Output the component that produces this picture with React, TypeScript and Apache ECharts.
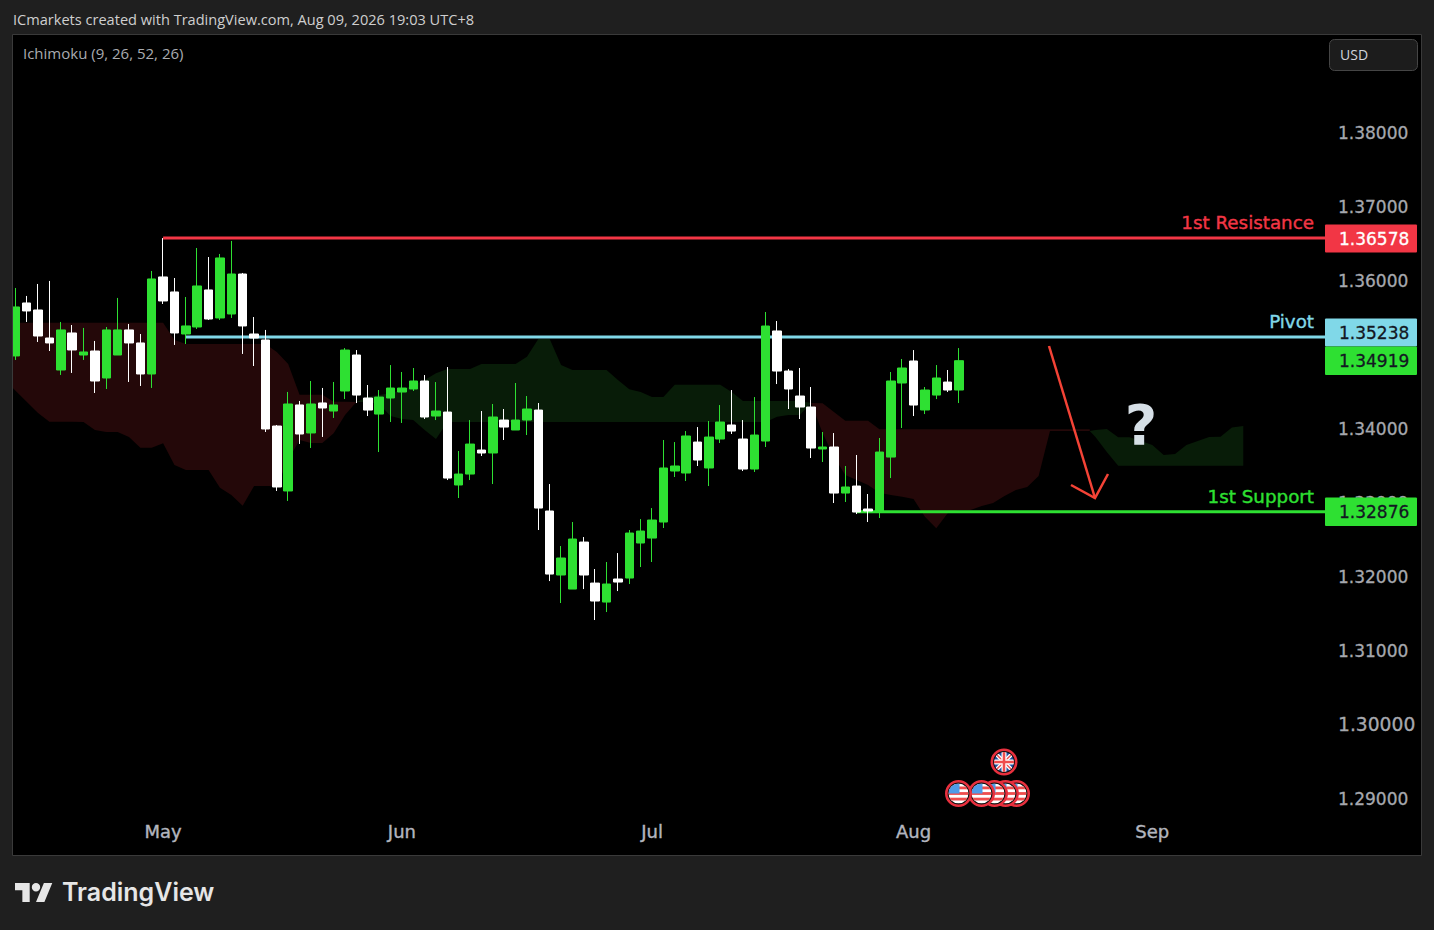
import React, { useEffect, useRef } from "react";
import * as echarts from "echarts";

// Daily candles (index 0 = first visible session, one per weekday)
const opens = [
  1.34983,1.357,1.35605,1.35226,1.34793,1.35294,1.34996,1.3505,1.34685,1.34996,
  1.35335,1.35159,1.34739,1.36052,1.35849,1.3528,1.35375,1.35876,1.35497,1.35551,
  1.36092,1.3528,1.35199,1.34035,1.33156,1.3432,1.33941,1.34347,1.34238,1.34509,
  1.34996,1.34414,1.34197,1.34414,1.34495,1.34536,1.34644,1.3417,1.34224,1.33237,
  1.33385,1.3371,1.3367,1.34116,1.33981,1.34116,1.34251,1.32885,1.32019,1.31829,
  1.32465,1.3191,1.31653,1.31965,1.31978,1.32452,1.32519,1.32736,1.33426,1.33399,
  1.33818,1.33467,1.33859,1.34049,1.33859,1.33453,1.33832,1.35321,1.34779,1.34441,
  1.34292,1.33724,1.33751,1.33128,1.33223,1.32912,1.32871,1.33615,1.34617,1.34915,
  1.34252,1.34454,1.3463,1.34522,
];
const closes = [
  1.35646,1.35592,1.35253,1.35159,1.35335,1.35064,1.35037,1.34644,1.35335,1.35335,
  1.35159,1.34739,1.36025,1.35727,1.35294,1.35389,1.3593,1.35483,1.36309,1.36092,
  1.35389,1.35226,1.33995,1.3321,1.34333,1.33927,1.34333,1.34279,1.3432,1.35063,
  1.34454,1.34251,1.34427,1.34549,1.34549,1.34644,1.34157,1.34238,1.33331,1.33385,
  1.33791,1.3367,1.34157,1.34021,1.34116,1.34265,1.32925,1.32032,1.32249,1.32506,
  1.32019,1.31667,1.31897,1.31924,1.32587,1.32614,1.32763,1.33467,1.33494,1.339,
  1.33575,1.33886,1.34089,1.33967,1.33453,1.33913,1.35388,1.34779,1.34536,1.34292,
  1.33737,1.33751,1.33128,1.3321,1.32871,1.32885,1.33683,1.34644,1.3482,1.34319,
  1.34522,1.34685,1.34522,1.34919,
];
const lows = [
  1.34929,1.35443,1.35172,1.3505,1.34726,1.34753,1.34929,1.34482,1.34536,1.34996,
  1.34631,1.34577,1.3455,1.35686,1.35132,1.35145,1.35348,1.3547,1.3547,1.35497,
  1.3501,1.34847,1.33954,1.33156,1.33021,1.33792,1.33738,1.33887,1.34144,1.344,
  1.34346,1.3417,1.33683,1.34089,1.34076,1.34509,1.3413,1.34116,1.33304,1.33061,
  1.33304,1.33629,1.3325,1.33846,1.33981,1.33913,1.32628,1.31937,1.3164,1.31829,
  1.31829,1.3141,1.31518,1.31802,1.31897,1.32127,1.32195,1.32655,1.33345,1.33291,
  1.33494,1.33223,1.33805,1.33927,1.33426,1.33413,1.33751,1.34603,1.34265,1.3413,
  1.33602,1.33548,1.32993,1.33007,1.32844,1.32736,1.3279,1.33331,1.34008,1.3417,
  1.34197,1.344,1.34495,1.34346,
];
const highs = [
  1.35903,1.35795,1.35957,1.35998,1.35443,1.35402,1.35362,1.35186,1.35375,1.35768,
  1.35416,1.3528,1.36133,1.36578,1.36038,1.35781,1.36444,1.36322,1.36363,1.36539,
  1.36106,1.3551,1.35335,1.34049,1.34496,1.34374,1.34644,1.3455,1.34631,1.3509,
  1.35063,1.3459,1.34522,1.3486,1.34766,1.3482,1.34725,1.3463,1.34833,1.33697,
  1.34116,1.34238,1.34333,1.34265,1.34617,1.34441,1.34346,1.3325,1.32411,1.32736,
  1.32533,1.321,1.32195,1.32316,1.32628,1.32776,1.32925,1.33846,1.33818,1.33967,
  1.34021,1.34103,1.34319,1.34522,1.34116,1.34427,1.35578,1.35456,1.34806,1.3482,
  1.34563,1.33954,1.3394,1.33494,1.33643,1.33115,1.33873,1.34766,1.34942,1.35063,
  1.34563,1.3486,1.34793,1.3509,
];

// Ichimoku cloud segments: session index, upper edge, lower edge
const red1Idx = [-0.2,1,2,3,4,5,6,7,8,9,10,11,12,13,14,15,16,17,18,19,20,21,22,23,24,25,26,27,28,29,30];
const red1Top = [1.35433,1.35433,1.35433,1.35433,1.35433,1.35433,1.35433,1.35433,1.35433,1.35433,1.35433,1.35433,1.35433,1.35433,1.35199,1.35145,1.35145,1.35145,1.35145,1.35145,1.35145,1.35145,1.35145,1.35037,1.34874,1.34459,1.34459,1.34459,1.34364,1.34364,1.3436];
const red1Bot = [1.34545,1.34364,1.34211,1.34093,1.34093,1.34093,1.34089,1.33981,1.33954,1.33954,1.33886,1.33741,1.33741,1.33801,1.33507,1.3344,1.3344,1.3344,1.332,1.33101,1.32957,1.33223,1.33223,1.33223,1.33575,1.33846,1.33805,1.33805,1.33936,1.34184,1.3436];

const green1Idx = [30,31,32,33,34,35,36,37,38,39,40,41,42,43,44,45,46,47,48,49,50,51,52,53,54,55,56,57,58,59,60,61,62,63,64,65,66,67,68,69,70];
const green1Top = [1.3436,1.34432,1.34455,1.34478,1.34522,1.3459,1.34658,1.34748,1.34806,1.34806,1.34806,1.34874,1.34874,1.34874,1.34874,1.34973,1.35212,1.35212,1.34861,1.34793,1.34793,1.34793,1.34793,1.34658,1.34532,1.34495,1.34428,1.34428,1.34594,1.34594,1.34594,1.34594,1.34594,1.34495,1.34373,1.34373,1.34373,1.34373,1.34373,1.34373,1.34346];
const green1Bot = [1.3436,1.3436,1.34333,1.3417,1.3413,1.34116,1.33981,1.33859,1.34089,1.34089,1.34089,1.34089,1.34089,1.34089,1.34089,1.34089,1.34089,1.34089,1.34089,1.34089,1.34089,1.34089,1.34089,1.34089,1.34089,1.34089,1.34089,1.34089,1.34089,1.34089,1.34089,1.34089,1.34089,1.34089,1.34089,1.34089,1.34089,1.34161,1.34184,1.34184,1.34346];

const red2Idx = [70,71,72,73,74,75,76,77,78,79,80,81,82,83,84,85,86,87,88,89,90,91,92,93,94.5];
const red2Top = [1.34346,1.34342,1.34225,1.34107,1.34107,1.34107,1.3399,1.3399,1.3399,1.3399,1.3399,1.3399,1.3399,1.3399,1.3399,1.3399,1.3399,1.3399,1.3399,1.3399,1.3399,1.3399,1.3399,1.3399,1.3399];
const red2Bot = [1.34346,1.3394,1.3362,1.33372,1.33304,1.33237,1.33133,1.33101,1.33078,1.33047,1.32808,1.32651,1.32854,1.32898,1.32898,1.32953,1.32993,1.33088,1.33169,1.3321,1.33359,1.33967,1.33967,1.33967,1.33967];

const green2Idx = [94.5,95,96,97,98,99,100,101,102,103,104,105,106,107,108];
const green2Top = [1.33967,1.33981,1.33995,1.33882,1.33882,1.33832,1.33778,1.33643,1.33656,1.33778,1.33832,1.33886,1.3389,1.34015,1.34035];
const green2Bot = [1.33967,1.33886,1.33683,1.33498,1.33498,1.33498,1.33498,1.33498,1.33498,1.33498,1.33498,1.33498,1.33498,1.33498,1.33498];

// Horizontal levels
const resistanceLevel = 1.36578;
const pivotLevel = 1.35238;
const supportLevel = 1.32876;
const lastClose = 1.34919;
const resistanceStart = 13;
const pivotStart = 15;
const supportStart = 74;

// Axis ticks
const priceTicks = [1.29, 1.3, 1.31, 1.32, 1.33, 1.34, 1.35, 1.36, 1.37, 1.38];
const monthTicks = [13, 34, 56, 79, 100];
const monthLabels = ["May", "Jun", "Jul", "Aug", "Sep"];

const UP = "#2ee032";
const DOWN = "#ffffff";
const RED = "#f23645";
const CYAN = "#80d8e8";
const SANS = "'DejaVu Sans', sans-serif";
const HEAD = "'Open Sans', sans-serif";

const LOGO_D =
  "M14 22H7V11H0V4h14v18ZM28 22h-8l7.5-18h8L28 22ZM20 4a4 4 0 1 1 0 8 4 4 0 0 1 0-8Z";
echarts.graphic.registerShape("tvlogo", echarts.graphic.extendPath(LOGO_D, {}));

const disc = (inner: string, id: string) =>
  "data:image/svg+xml," +
  encodeURIComponent(
    `<svg xmlns='http://www.w3.org/2000/svg' width='28' height='28' viewBox='0 0 28 28'>` +
      `<defs><clipPath id='${id}'><circle cx='14' cy='14' r='10'/></clipPath></defs>` +
      `<circle cx='14' cy='14' r='12.2' fill='#111' stroke='#e8303e' stroke-width='2.6'/>` +
      `<g clip-path='url(#${id})'>${inner}</g></svg>`
  );
const usFlag = disc(
  `<rect x='4' y='4' width='20' height='20' fill='#fff'/>` +
    `<rect x='4' y='7' width='20' height='2.8' fill='#ef4d4d'/>` +
    `<rect x='4' y='12.6' width='20' height='2.8' fill='#ef4d4d'/>` +
    `<rect x='4' y='18.2' width='20' height='2.8' fill='#ef4d4d'/>` +
    `<rect x='4' y='4' width='11' height='10' fill='#4f9be8'/>`,
  "us"
);
const ukFlag = disc(
  `<rect x='4' y='4' width='20' height='20' fill='#1d4fa0'/>` +
    `<path d='M4 4L24 24M24 4L4 24' stroke='#fff' stroke-width='4'/>` +
    `<path d='M4 4L24 24M24 4L4 24' stroke='#ef4d4d' stroke-width='1.4'/>` +
    `<path d='M14 4V24M4 14H24' stroke='#fff' stroke-width='5'/>` +
    `<path d='M14 4V24M4 14H24' stroke='#ef4d4d' stroke-width='2.6'/>`,
  "uk"
);

const cloud = (xs: number[], tops: number[], bots: number[], color: string) => ({
  type: "custom",
  coordinateSystem: "cartesian2d",
  silent: true,
  z: 1,
  clip: true,
  data: xs.map((x, i) => [x, tops[i], bots[i]]),
  encode: { x: 0, y: [1, 2] },
  renderItem: (params: any, api: any) => {
    if (params.dataIndex !== 0) return null;
    const upper = xs.map((x, i) => api.coord([x, tops[i]]));
    const lower = xs.map((x, i) => api.coord([x, bots[i]])).reverse();
    return { type: "polygon", shape: { points: [...upper, ...lower] }, style: { fill: color } };
  },
});

const level = (value: number, from: number, color: string) => ({
  type: "line",
  data: [
    [from, value],
    [116, value],
  ],
  symbol: "none",
  silent: true,
  z: 2,
  lineStyle: { color, width: 3 },
});

const tag = (top: number, h: number, bg: string, value: number, fg: string) => [
  { type: "rect", z: 100, shape: { x: 1325, y: top, width: 92, height: h, r: 1 }, style: { fill: bg } },
  {
    type: "text",
    z: 101,
    x: 1339,
    y: top + h / 2,
    style: { text: value.toFixed(5), fill: fg, stroke: fg, lineWidth: 0.3, font: `17px ${SANS}`, verticalAlign: "middle" },
  },
];

const caption = (text: string, y: number, color: string) => ({
  type: "text",
  z: 100,
  x: 1314,
  y,
  style: { text, fill: color, stroke: color, lineWidth: 0.4, font: `18.3px ${SANS}`, align: "right", verticalAlign: "middle" },
});

const flag = (image: string, cx: number, cy: number, z: number) => ({
  type: "image",
  z,
  style: { image, x: cx - 14, y: cy - 14, width: 28, height: 28 },
});

export default function App() {
  const ref = useRef<HTMLDivElement>(null);
  useEffect(() => {
    document.body.style.margin = "0";
    const chart = echarts.init(ref.current!, undefined, { renderer: "svg" });
    chart.setOption({
      animation: false,
      backgroundColor: "#1f1f1f",
      grid: { left: 13, top: 35, width: 1311, height: 785, containLabel: false },
      xAxis: {
        type: "value",
        min: -0.202,
        max: 115.1,
        axisLine: { show: false },
        axisTick: { show: false },
        splitLine: { show: false },
        axisLabel: {
          customValues: monthTicks,
          formatter: (v: number) => monthLabels[monthTicks.indexOf(v)] ?? "",
          color: "#b2b5be",
          fontFamily: SANS,
          fontWeight: 500,
          fontSize: 18,
          margin: 2,
          textBorderColor: "#b2b5be",
          textBorderWidth: 0.4,
        },
      },
      yAxis: {
        type: "value",
        position: "right",
        min: 1.28704,
        max: 1.39326,
        axisLine: { show: false },
        axisTick: { show: false },
        splitLine: { show: false },
        axisLabel: {
          customValues: priceTicks,
          formatter: (v: number) => (v === 1.3 ? `{big|${v.toFixed(5)}}` : v.toFixed(5)),
          color: "#a6a8ae",
          fontFamily: SANS,
          fontSize: 17,
          margin: 14,
          padding: [1, 0, 0, 0],
          textBorderColor: "#a6a8ae",
          textBorderWidth: 0.3,
          rich: {
            big: {
              fontSize: 18.7,
              fontFamily: SANS,
              color: "#a6a8ae",
              textBorderColor: "#a6a8ae",
              textBorderWidth: 0.3,
            },
          },
        },
      },
      series: [
        cloud(red1Idx, red1Top, red1Bot, "#240809"),
        cloud(green1Idx, green1Top, green1Bot, "#081c08"),
        cloud(red2Idx, red2Top, red2Bot, "#240809"),
        cloud(green2Idx, green2Top, green2Bot, "#081c08"),
        level(resistanceLevel, resistanceStart, RED),
        level(pivotLevel, pivotStart, CYAN),
        level(supportLevel, supportStart, UP),
        {
          type: "candlestick",
          z: 5,
          silent: true,
          barWidth: 9,
          data: opens.map((o, i) => [i, o, closes[i], lows[i], highs[i]]),
          encode: { x: 0, y: [1, 2, 3, 4] },
          itemStyle: {
            color: UP,
            color0: DOWN,
            borderColor: UP,
            borderColor0: DOWN,
            borderWidth: 1,
          },
        },
      ],
      graphic: [
        {
          type: "rect",
          z: -1,
          shape: { x: 12.5, y: 34.5, width: 1409, height: 821 },
          style: { fill: "#000", stroke: "#3a3a3a", lineWidth: 1 },
        },
        {
          type: "rect",
          z: 50,
          shape: { x: 0, y: 36, width: 12, height: 818 },
          style: { fill: "#1f1f1f" },
        },
        {
          type: "line",
          z: 50,
          shape: { x1: 12.5, y1: 35, x2: 12.5, y2: 855 },
          style: { stroke: "#3a3a3a", lineWidth: 1 },
        },
        {
          type: "text",
          z: 100,
          x: 13,
          y: 19,
          style: {
            text: "ICmarkets created with TradingView.com, Aug 09, 2026 19:03 UTC+8",
            fill: "#cfcfcf",
            font: `14.57px ${HEAD}`,
            verticalAlign: "middle",
          },
        },
        {
          type: "text",
          z: 100,
          x: 23,
          y: 53,
          style: { text: "Ichimoku (9, 26, 52, 26)", fill: "#a9abb0", font: `15px ${HEAD}`, verticalAlign: "middle" },
        },
        {
          type: "rect",
          z: 100,
          shape: { x: 1329.5, y: 39.5, width: 88, height: 31, r: 5 },
          style: { fill: "#1c1c1c", stroke: "#454545", lineWidth: 1 },
        },
        {
          type: "text",
          z: 101,
          x: 1340,
          y: 54,
          style: { text: "USD", fill: "#d1d4dc", font: `14px ${HEAD}`, verticalAlign: "middle" },
        },
        ...tag(224.5, 28, RED, resistanceLevel, "#ffffff"),
        ...tag(318.5, 28, CYAN, pivotLevel, "#131722"),
        ...tag(346.5, 28.5, UP, lastClose, "#131722"),
        ...tag(497.5, 28.5, UP, supportLevel, "#131722"),
        caption("1st Resistance", 222, RED),
        caption("Pivot", 321, CYAN),
        caption("1st Support", 496, UP),
        {
          type: "polyline",
          z: 90,
          shape: { points: [[1049, 346], [1095, 498]] },
          style: { stroke: "#f44336", lineWidth: 2.5, fill: "none" },
        },
        {
          type: "polyline",
          z: 90,
          shape: { points: [[1071, 485], [1095, 498], [1108, 474]] },
          style: { stroke: "#f44336", lineWidth: 2.5, fill: "none" },
        },
        {
          type: "text",
          z: 91,
          x: 1141,
          y: 424,
          style: {
            text: "?",
            fill: "#d6dfe6",
            font: `bold 56px ${SANS}`,
            align: "center",
            verticalAlign: "middle",
          },
        },
        flag(usFlag, 1016.5, 793.5, 80),
        flag(usFlag, 1005.5, 793.5, 81),
        flag(usFlag, 994.5, 793.5, 82),
        flag(usFlag, 981.5, 793.5, 83),
        flag(usFlag, 958.5, 793.5, 84),
        flag(ukFlag, 1004, 762, 84),
        {
          type: "tvlogo",
          z: 100,
          x: 15,
          y: 878.8,
          scaleX: 1.05,
          scaleY: 1.05,
          style: { fill: "#e6e6e6" },
        },
        {
          type: "text",
          z: 100,
          x: 62,
          y: 892,
          style: { text: "TradingView", fill: "#e6e6e6", font: `600 25px Inter, sans-serif`, verticalAlign: "middle" },
        },
      ],
    });
    return () => chart.dispose();
  }, []);
  return <div ref={ref} style={{ position: "fixed", left: 0, top: 0, width: 1434, height: 930 }} />;
}
